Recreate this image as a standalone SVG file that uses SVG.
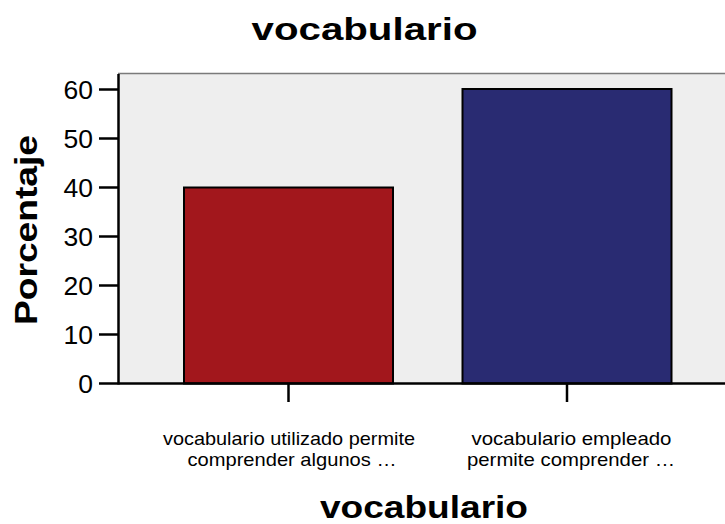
<svg xmlns="http://www.w3.org/2000/svg" width="725" height="524" viewBox="0 0 725 524">
<style>
text{font-family:"Liberation Sans",Arial,sans-serif;fill:#000}
.title{font-size:32px;font-weight:bold}
.tick{font-size:26.5px;text-anchor:end}
.cat{font-size:19px;text-anchor:middle}
.ax{stroke:#000;stroke-width:2.5;fill:none}
.bar{stroke:#000;stroke-width:2}
</style>
<rect x="0" y="0" width="725" height="524" fill="#fff"/>
<g id="plot-area">
<rect x="118" y="74" width="607" height="310" fill="#eeeeee"/>
<line x1="118" y1="73.5" x2="725" y2="73.5" stroke="#7a7a7a" stroke-width="1.5"/>
</g>
<g id="bar-utilizado">
<rect class="bar" x="184" y="187.5" width="209" height="196" fill="#a2171c"/>
</g>
<g id="bar-empleado">
<rect class="bar" x="462.5" y="89" width="209" height="294.5" fill="#292b72"/>
</g>
<g id="axes">
<line class="ax" x1="118.5" y1="74" x2="118.5" y2="384.5"/>
<line class="ax" x1="99" y1="383.5" x2="725" y2="383.5"/>
<line class="ax" x1="99" y1="334.5" x2="118" y2="334.5"/>
<line class="ax" x1="99" y1="285.5" x2="118" y2="285.5"/>
<line class="ax" x1="99" y1="236.5" x2="118" y2="236.5"/>
<line class="ax" x1="99" y1="187.5" x2="118" y2="187.5"/>
<line class="ax" x1="99" y1="138.5" x2="118" y2="138.5"/>
<line class="ax" x1="99" y1="89.5" x2="118" y2="89.5"/>
<line class="ax" x1="288.5" y1="384" x2="288.5" y2="402"/>
<line class="ax" x1="567" y1="384" x2="567" y2="402"/>
</g>
<g id="tick-labels">
<text class="tick" x="93" y="393">0</text>
<text class="tick" x="93" y="344">10</text>
<text class="tick" x="93" y="295">20</text>
<text class="tick" x="93" y="246">30</text>
<text class="tick" x="93" y="197">40</text>
<text class="tick" x="93" y="148">50</text>
<text class="tick" x="93" y="99">60</text>
</g>
<g id="category-labels">
<text class="cat" x="289" y="445" textLength="252" lengthAdjust="spacingAndGlyphs">vocabulario utilizado permite</text>
<text class="cat" x="292" y="466" textLength="209" lengthAdjust="spacingAndGlyphs">comprender algunos …</text>
<text class="cat" x="571.5" y="445" textLength="200" lengthAdjust="spacingAndGlyphs">vocabulario empleado</text>
<text class="cat" x="571" y="466" textLength="208" lengthAdjust="spacingAndGlyphs">permite comprender …</text>
</g>
<g id="titles">
<text class="title" x="251.5" y="40" textLength="226" lengthAdjust="spacingAndGlyphs">vocabulario</text>
<text class="title" x="320" y="518" textLength="208" lengthAdjust="spacingAndGlyphs">vocabulario</text>
<text class="title" transform="translate(37,230) rotate(-90)" x="-95" y="0" textLength="190" lengthAdjust="spacingAndGlyphs">Porcentaje</text>
</g>
</svg>
